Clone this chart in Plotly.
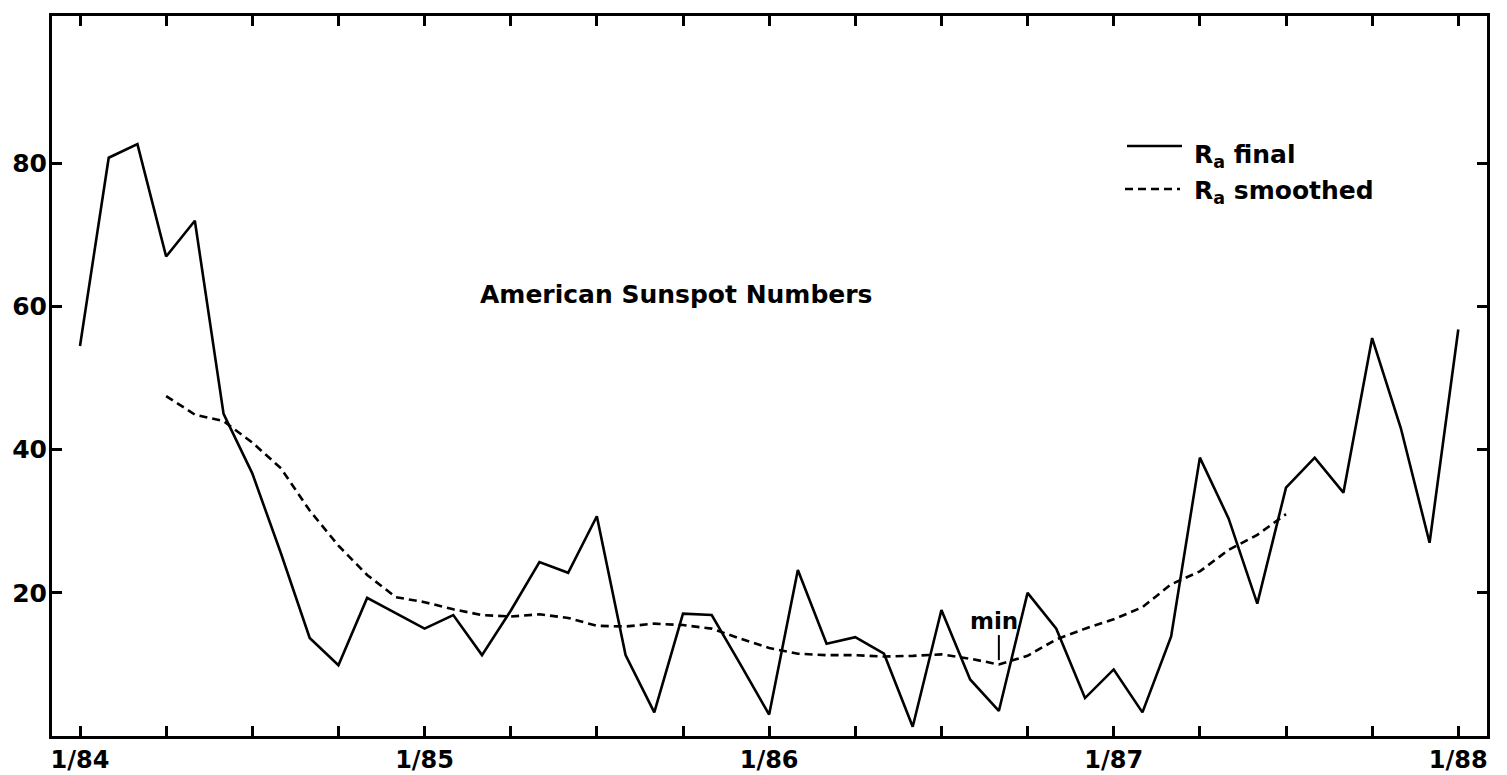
import plotly.graph_objects as go

# ---- data ----
months = list(range(49))  # months since 1/84
ra_final = [54.5, 80.8, 82.7, 67.0, 72.0, 45.0, 36.7, 25.5, 13.7, 9.9,
            19.3, 17.2, 15.0, 16.9, 11.3, 17.5, 24.3, 22.8, 30.7, 11.3,
            3.3, 17.1, 16.9, 10.0, 3.0, 23.2, 12.9, 13.8, 11.5, 1.3,
            17.6, 7.9, 3.5, 20.0, 15.0, 5.3, 9.3, 3.3, 13.9, 38.9,
            30.4, 18.5, 34.7, 38.9, 34.0, 55.6, 43.0, 27.0, 56.8]
smooth_months = list(range(3, 43))
ra_smoothed = [47.5, 44.9, 44.0, 41.0, 37.4, 31.5, 26.6, 22.5, 19.4, 18.7,
               17.7, 16.9, 16.7, 17.0, 16.5, 15.4, 15.3, 15.7, 15.5, 15.0,
               13.6, 12.3, 11.5, 11.3, 11.3, 11.1, 11.2, 11.4, 10.8, 10.0,
               11.2, 13.5, 15.0, 16.3, 18.0, 21.2, 23.0, 26.0, 28.1, 31.0]
year_ticks = [0, 12, 24, 36, 48]
year_labels = ["1/84", "1/85", "1/86", "1/87", "1/88"]
quarter_step = 3
y_ticks = [20, 40, 60, 80]
min_month = 32

FONT = "DejaVu Sans, Verdana, sans-serif"
W, H = 1507, 775
L, R, T, B = 52, 20, 16, 39


def px_x(px):
    return (px - L) / (W - L - R)


def px_y(py):
    return (H - B - py) / (H - T - B)


fig = go.Figure()
fig.add_trace(go.Scatter(x=months, y=ra_final, mode="lines",
                         name="R<sub>a</sub> final",
                         line=dict(color="black", width=2.6),
                         showlegend=False))
fig.add_trace(go.Scatter(x=smooth_months, y=ra_smoothed, mode="lines",
                         name="R<sub>a</sub> smoothed",
                         line=dict(color="black", width=2.6, dash="8px,5px"),
                         showlegend=False))

axis_common = dict(showline=True, linewidth=3, linecolor="black",
                   mirror="ticks", ticks="inside", ticklen=10, tickwidth=2.5,
                   tickcolor="black", showgrid=False, zeroline=False,
                   automargin=False)

fig.update_xaxes(range=[-0.975, 49.0], tickvals=year_ticks, ticktext=year_labels,
                 ticklabelstandoff=0,
                 tickfont=dict(family=FONT, size=24, color="black", weight="bold"),
                 minor=dict(tick0=0, dtick=quarter_step, ticks="inside", ticklen=10,
                            tickwidth=2.5, tickcolor="black", showgrid=False),
                 **axis_common)
fig.update_yaxes(range=[0, 100.6], tickvals=y_ticks, ticklabelstandoff=-3,
                 tickfont=dict(family=FONT, size=25, color="black", weight="bold"),
                 **axis_common)

# legend (drawn manually to match the reference layout)
fig.add_shape(type="line", xref="paper", yref="paper",
              x0=px_x(1127), x1=px_x(1182), y0=px_y(146), y1=px_y(146),
              line=dict(color="black", width=2.6))
fig.add_shape(type="line", xref="paper", yref="paper",
              x0=px_x(1125), x1=px_x(1180), y0=px_y(189), y1=px_y(189),
              line=dict(color="black", width=2.6, dash="8px,5px"))
legend_font = dict(family=FONT, size=25, color="black", weight="bold")
fig.add_annotation(xref="paper", yref="paper", x=px_x(1192), y=px_y(156),
                   xanchor="left", yanchor="middle", showarrow=False,
                   text="R<sub>a</sub> final", font=legend_font)
fig.add_annotation(xref="paper", yref="paper", x=px_x(1192), y=px_y(192),
                   xanchor="left", yanchor="middle", showarrow=False,
                   text="R<sub>a</sub> smoothed", font=legend_font)

# title inside plot
fig.add_annotation(xref="paper", yref="paper", x=px_x(676), y=px_y(294),
                   xanchor="center", yanchor="middle", showarrow=False,
                   text="American Sunspot Numbers",
                   font=dict(family=FONT, size=25, color="black", weight="bold"))

# minimum marker
smin = ra_smoothed[smooth_months.index(min_month)]
fig.add_shape(type="line", xref="x", yref="y", x0=min_month, x1=min_month,
              y0=smin + 0.6, y1=smin + 4.1, line=dict(color="black", width=2))
fig.add_annotation(xref="x", yref="y", x=min_month, y=smin + 4.1,
                   xanchor="center", yanchor="bottom", xshift=-5, yshift=-1,
                   showarrow=False, text="min",
                   font=dict(family=FONT, size=23, color="black", weight="bold"))

fig.update_layout(width=W, height=H, margin=dict(l=L, r=R, t=T, b=B, autoexpand=False),
                  plot_bgcolor="white", paper_bgcolor="white", showlegend=False)

fig.write_html("out.html", config={"displayModeBar": False},
               post_script="document.body.style.margin='0';document.body.style.overflow='hidden';")
